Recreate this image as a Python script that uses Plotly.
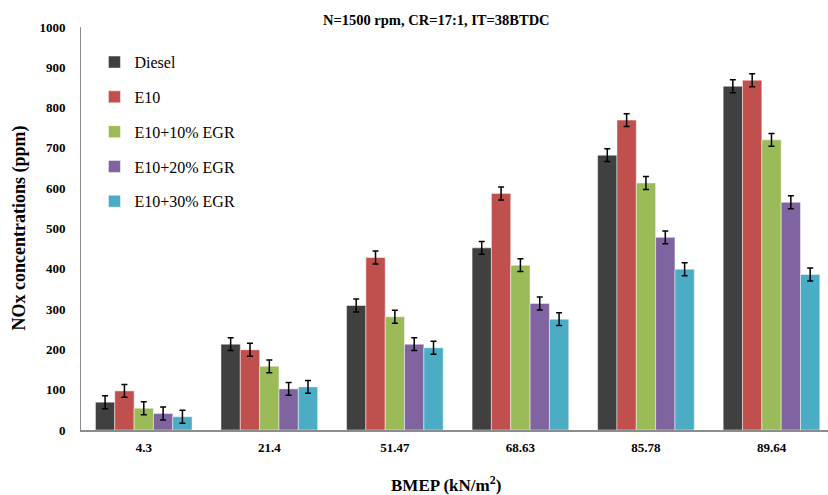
import plotly.graph_objects as go

categories = ["4.3", "21.4", "51.47", "68.63", "85.78", "89.64"]
series_names = ["Diesel", "E10", "E10+10% EGR", "E10+20% EGR", "E10+30% EGR"]
diesel = [69, 213, 309, 452, 682, 853]
e10 = [97, 199, 428, 587, 769, 868]
e10_egr10 = [54, 158, 281, 409, 613, 720]
e10_egr20 = [41, 102, 213, 314, 478, 565]
e10_egr30 = [33, 107, 204, 275, 399, 386]
error = [16, 16, 16, 16, 16, 16]
y_ticks = [0, 100, 200, 300, 400, 500, 600, 700, 800, 900, 1000]

colors = ["#404040", "#C0504D", "#9BBB59", "#8064A2", "#4BACC6"]
values = [diesel, e10, e10_egr10, e10_egr20, e10_egr30]

SERIF = "Liberation Serif, Times New Roman, serif"

fig = go.Figure()
for i, (name, vals) in enumerate(zip(series_names, values)):
    fig.add_trace(go.Bar(
        x=categories, y=vals, name=name,
        legendgroup=name,
        marker=dict(color=colors[i], line=dict(color="rgba(255,255,255,0.6)", width=0.8)),
        error_y=dict(type="data", array=error, visible=True, color="black",
                     thickness=1.5, width=3),
    ))

fig.update_layout(
    width=828, height=495,
    margin=dict(l=81, r=0, t=27, b=65),
    paper_bgcolor="white", plot_bgcolor="white",
    barmode="group", bargap=0.23, bargroupgap=0,
    font=dict(family=SERIF, color="black"),
    showlegend=True,
    legend=dict(x=0.018, y=0.955, xanchor="left", yanchor="top",
                font=dict(family=SERIF, size=16, color="black"),
                bgcolor="rgba(0,0,0,0)", tracegroupgap=11, itemwidth=30),
    xaxis=dict(
        type="category", range=[-0.5, 5.45],
        showline=True, linecolor="#8c8c8c", linewidth=1.5,
        ticks="", showgrid=False, zeroline=False,
        tickfont=dict(family=SERIF, size=13, color="black", weight="bold"),
        ticklabelstandoff=5,
    ),
    yaxis=dict(
        range=[0, 1000], tickvals=y_ticks,
        showline=True, linecolor="#8c8c8c", linewidth=1,
        ticks="", showgrid=False, zeroline=False,
        tickfont=dict(family=SERIF, size=13, color="black", weight="bold"),
        ticklabelstandoff=12,
    ),
    annotations=[
        dict(text="<b>N=1500 rpm, CR=17:1, IT=38BTDC</b>", xref="paper", yref="paper",
             x=(436 - 81) / 747, y=1 + (27 - 20) / 403, xanchor="center", yanchor="middle",
             showarrow=False, font=dict(family=SERIF, size=14.5, color="black")),
        dict(text="<b>BMEP (kN/m<sup>2</sup>)</b>", xref="paper", yref="paper",
             x=(446 - 81) / 747, y=-(484 - 430) / 403, xanchor="center", yanchor="middle",
             showarrow=False, font=dict(family=SERIF, size=17, color="black")),
        dict(text="<b>NOx concentrations (ppm)</b>", xref="paper", yref="paper",
             x=-(81 - 19) / 747, y=0.5, xanchor="center", yanchor="middle", textangle=-90,
             showarrow=False, font=dict(family=SERIF, size=18, color="black")),
    ],
)

fig.write_html("out.html")
